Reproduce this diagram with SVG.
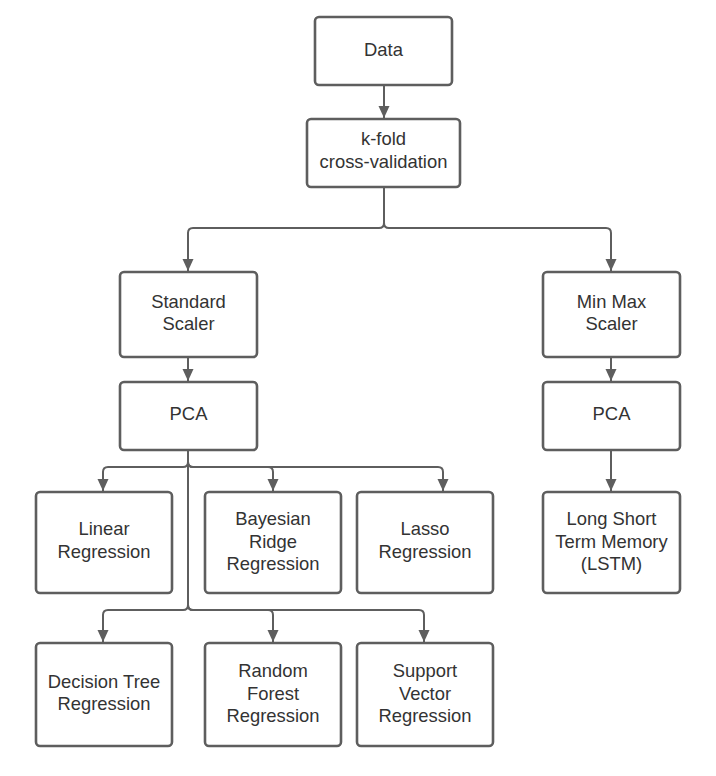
<svg xmlns="http://www.w3.org/2000/svg" width="716" height="776" viewBox="0 0 716 776">
<style>
.box{fill:#fff;stroke:#5e5e5e;stroke-width:2.6}
.lbl{font-family:"Liberation Sans",Arial,sans-serif;font-size:18.4px;fill:#333;text-anchor:middle}
.con{fill:none;stroke:#5e5e5e;stroke-width:2}
</style>
<defs>
<marker id="ah" markerUnits="userSpaceOnUse" markerWidth="12" markerHeight="12" refX="12" refY="6" orient="auto">
<path d="M0,0.5 L12,6 L0,11.5 z" fill="#5e5e5e"/>
</marker>
</defs>
<rect width="716" height="776" fill="#fff"/>
<g id="connectors">
<path class="con" marker-end="url(#ah)" d="M384 85 V118"/>
<path class="con" marker-end="url(#ah)" d="M384 187 V223 Q384 228 379 228 H193 Q188 228 188 233 V271"/>
<path class="con" marker-end="url(#ah)" d="M384 187 V223 Q384 228 389 228 H606 Q611 228 611 233 V271"/>
<path class="con" marker-end="url(#ah)" d="M188 357 V381"/>
<path class="con" marker-end="url(#ah)" d="M611 357 V381"/>
<path class="con" marker-end="url(#ah)" d="M611 450 V491"/>
<path class="con" marker-end="url(#ah)" d="M188 450 V462 Q188 467 183 467 H108 Q103 467 103 472 V491"/>
<path class="con" marker-end="url(#ah)" d="M188 462 Q188 467 193 467 H268 Q273 467 273 472 V491"/>
<path class="con" marker-end="url(#ah)" d="M188 462 Q188 467 193 467 H438 Q443 467 443 472 V491"/>
<path class="con" marker-end="url(#ah)" d="M188 462 V605 Q188 610 183 610 H108 Q103 610 103 615 V642"/>
<path class="con" marker-end="url(#ah)" d="M188 605 Q188 610 193 610 H268 Q273 610 273 615 V642"/>
<path class="con" marker-end="url(#ah)" d="M188 605 Q188 610 193 610 H419 Q424 610 424 615 V642"/>
</g>
<g id="data"><rect class="box" x="315" y="17" width="137" height="68" rx="4"/><text class="lbl" x="383.5" y="55.5">Data</text></g>
<g id="kfold"><rect class="box" x="307" y="119" width="153" height="68" rx="4"/><text class="lbl" x="383.5" y="145">k-fold</text><text class="lbl" x="383.5" y="167.5">cross-validation</text></g>
<g id="standard-scaler"><rect class="box" x="120" y="272" width="137" height="85" rx="4"/><text class="lbl" x="188.5" y="307.5">Standard</text><text class="lbl" x="188.5" y="330">Scaler</text></g>
<g id="pca-left"><rect class="box" x="120" y="382" width="137" height="68" rx="4"/><text class="lbl" x="188.5" y="419.5">PCA</text></g>
<g id="minmax-scaler"><rect class="box" x="543" y="272" width="137" height="85" rx="4"/><text class="lbl" x="611.5" y="307.5">Min Max</text><text class="lbl" x="611.5" y="330">Scaler</text></g>
<g id="pca-right"><rect class="box" x="543" y="382" width="137" height="68" rx="4"/><text class="lbl" x="611.5" y="419.5">PCA</text></g>
<g id="lstm"><rect class="box" x="543" y="492" width="137" height="101" rx="4"/><text class="lbl" x="611.5" y="525">Long Short</text><text class="lbl" x="611.5" y="547.5">Term Memory</text><text class="lbl" x="611.5" y="570">(LSTM)</text></g>
<g id="linear"><rect class="box" x="36" y="492" width="136" height="101" rx="4"/><text class="lbl" x="104" y="535">Linear</text><text class="lbl" x="104" y="557.5">Regression</text></g>
<g id="bayesian"><rect class="box" x="205" y="492" width="136" height="101" rx="4"/><text class="lbl" x="273" y="525">Bayesian</text><text class="lbl" x="273" y="547.5">Ridge</text><text class="lbl" x="273" y="570">Regression</text></g>
<g id="lasso"><rect class="box" x="357" y="492" width="136" height="101" rx="4"/><text class="lbl" x="425" y="535">Lasso</text><text class="lbl" x="425" y="557.5">Regression</text></g>
<g id="decision-tree"><rect class="box" x="36" y="643" width="136" height="103" rx="4"/><text class="lbl" x="104" y="687.5">Decision Tree</text><text class="lbl" x="104" y="710">Regression</text></g>
<g id="random-forest"><rect class="box" x="205" y="643" width="136" height="103" rx="4"/><text class="lbl" x="273" y="677">Random</text><text class="lbl" x="273" y="699.5">Forest</text><text class="lbl" x="273" y="722">Regression</text></g>
<g id="svr"><rect class="box" x="357" y="643" width="136" height="103" rx="4"/><text class="lbl" x="425" y="677">Support</text><text class="lbl" x="425" y="699.5">Vector</text><text class="lbl" x="425" y="722">Regression</text></g>
</svg>
